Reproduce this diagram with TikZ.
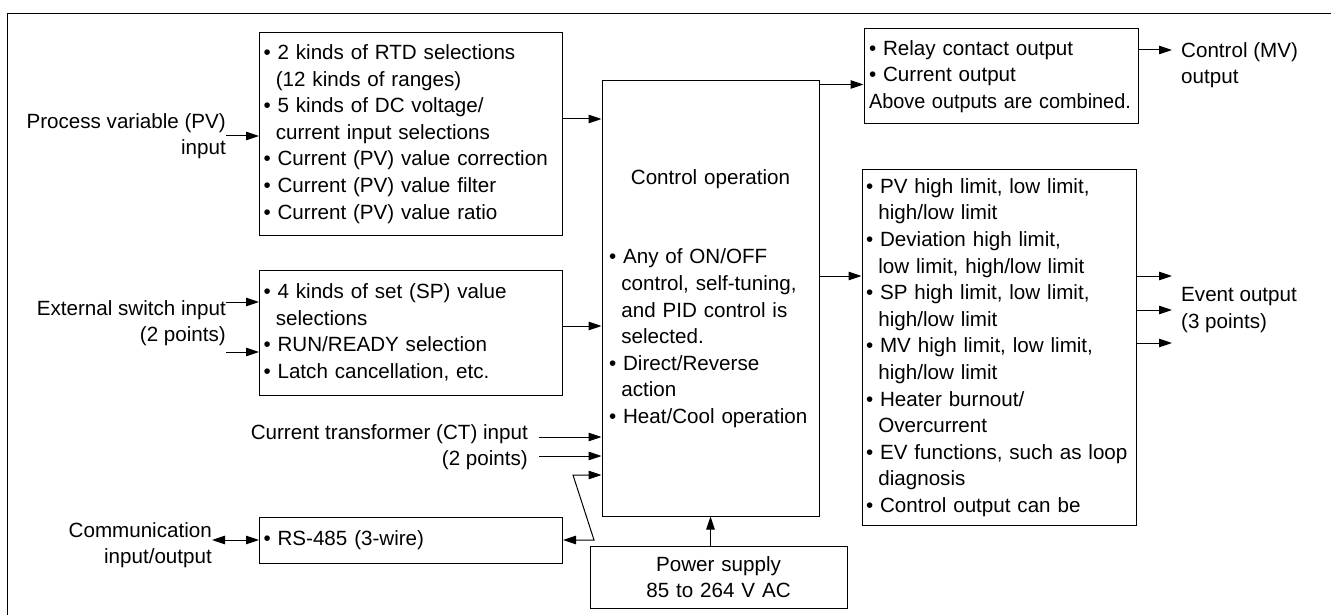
\documentclass[tikz,border=0pt]{standalone}
\usepackage{fontspec}
\setmainfont{Liberation Sans}
\usepackage{graphicx}
\usepackage{tikz}
\usetikzlibrary{arrows.meta, positioning}
\tikzstyle{box_style} = [rectangle, draw, line width=1pt, align=left, inner xsep=4pt, inner ysep=0pt]
\tikzstyle{label_style} = [inner sep=0pt]
\tikzstyle{arrow_style} = [line width=1pt, -{Triangle[length=13pt, width=8.5pt]}]
\tikzstyle{dbl_arrow_style} = [line width=1pt, {Triangle[length=13pt, width=8.5pt]}-{Triangle[length=13pt, width=8.5pt]}]
\newcommand{\bul}{•\ }
\newcommand{\ind}{\hspace*{0.6em}}
\hyphenpenalty=10000

\begin{document}
\begin{tikzpicture}[x=1pt, y=-1pt, font=\fontsize{20.6pt}{26.6pt}\selectfont]
	\useasboundingbox (0,0) rectangle (1331,615);
	\draw[line width=1.5pt] (7.5,620) -- (7.5,13.5) -- (1340,13.5);

	% input side
	\node[box_style, text width=295pt, minimum height=202pt] (pv) at (411,134) {\bul 2 kinds of RTD selections\\\ind(12 kinds of ranges)\\\bul 5 kinds of DC voltage/\\\ind current input selections\\\bul Current (PV) value correction\\\bul Current (PV) value filter\\\bul Current (PV) value ratio};
	\node[box_style, text width=295pt, minimum height=125pt, below=34pt of pv] (sw) {\bul 4 kinds of set (SP) value\\\ind selections\\\bul RUN/READY selection\\\bul Latch cancellation, etc.};
	\node[box_style, text width=295pt, minimum height=46pt, below=121pt of sw] (rs) {\bul RS-485 (3-wire)};

	\node[label_style, align=right, anchor=east] (pv_lbl) at (226,136) {Process variable (PV)\\input};
	\node[label_style, align=right, anchor=east] (sw_lbl) at (226,323) {External switch input\\(2 points)};
	\node[label_style, align=right, anchor=east] (ct_lbl) at (528,447) {Current transformer (CT) input\\(2 points)};
	\node[label_style, align=right, anchor=east] (com_lbl) at (212,545) {Communication\\input/output};
	\coordinate (sw_in1) at (226,302);
	\coordinate (sw_in2) at (226,352);
	\coordinate (ct_in1) at (539,437);
	\coordinate (ct_in2) at (539,456);
	\coordinate (ct_in3) at (573,475);

	% control
	\node[box_style, inner xsep=7pt, text width=203pt, minimum height=435pt] (ctrl) at (710.5,298.5) {\makebox[\linewidth]{Control operation}\\[53.2pt]\bul Any of ON/OFF\\\ind control, self-tuning,\\\ind and PID control is\\\ind selected.\\\bul Direct/Reverse\\\ind action\\\bul Heat/Cool operation};
	\node[box_style, align=center, text width=249pt, minimum height=62pt, below=29pt of ctrl, xshift=8pt] (pwr) {Power supply\\85 to 264 V AC};

	% output side
	\node[box_style, text width=264pt, inner xsep=5pt, minimum height=95pt] (mv) at (1001,76.5) {\bul Relay contact output\\\bul Current output\\\scalebox{0.965}[1]{Above outputs are combined.}};
	\node[box_style, text width=266pt, minimum height=355pt, below=45pt of mv, xshift=-2pt] (ev) {\bul PV high limit, low limit,\\\ind high/low limit\\\bul Deviation high limit,\\\ind low limit, high/low limit\\\bul SP high limit, low limit,\\\ind high/low limit\\\bul MV high limit, low limit,\\\ind high/low limit\\\bul Heater burnout/\\\ind Overcurrent\\\bul EV functions, such as loop\\\ind diagnosis\\\bul Control output can be};
	\node[label_style, align=left, anchor=west] (mv_lbl) at (1181,65) {Control (MV)\\output};
	\node[label_style, align=left, anchor=west] (ev_lbl) at (1181,310) {Event output\\(3 points)};
	\coordinate (mv_out) at (1172,50);
	\coordinate (ev_out1) at (1172,276);
	\coordinate (ev_out2) at (1172,310);
	\coordinate (ev_out3) at (1172,343);

	% connections
	\draw[arrow_style] (pv_lbl.east) -- (pv_lbl.east -| pv.west);
	\draw[arrow_style] (sw_in1) -- (sw_in1 -| sw.west);
	\draw[arrow_style] (sw_in2) -- (sw_in2 -| sw.west);
	\draw[dbl_arrow_style] (com_lbl.east |- rs.west) -- (rs.west);
	\draw[arrow_style] ([yshift=15pt]pv.east) -- ([yshift=15pt]pv.east -| ctrl.west);
	\draw[arrow_style] ([yshift=6.5pt]sw.east) -- ([yshift=6.5pt]sw.east -| ctrl.west);
	\draw[arrow_style] (ct_in1) -- (ct_in1 -| ctrl.west);
	\draw[arrow_style] (ct_in2) -- (ct_in2 -| ctrl.west);
	\draw[dbl_arrow_style] (rs.east) -- ++(31,0) -- (ct_in3) -- (ct_in3 -| ctrl.west);
	\draw[arrow_style] (pwr.north -| ctrl.south) -- (ctrl.south);
	\draw[arrow_style] ([yshift=-4pt]ctrl.north east) -- ([yshift=-4pt]ctrl.north east -| mv.west);
	\draw[arrow_style] ([yshift=22.5pt]ctrl.east) -- ([yshift=22.5pt]ctrl.east -| ev.west);
	\draw[arrow_style] (mv_out -| mv.east) -- (mv_out);
	\draw[arrow_style] (ev_out1 -| ev.east) -- (ev_out1);
	\draw[arrow_style] (ev_out2 -| ev.east) -- (ev_out2);
	\draw[arrow_style] (ev_out3 -| ev.east) -- (ev_out3);

\end{tikzpicture}
\end{document}
